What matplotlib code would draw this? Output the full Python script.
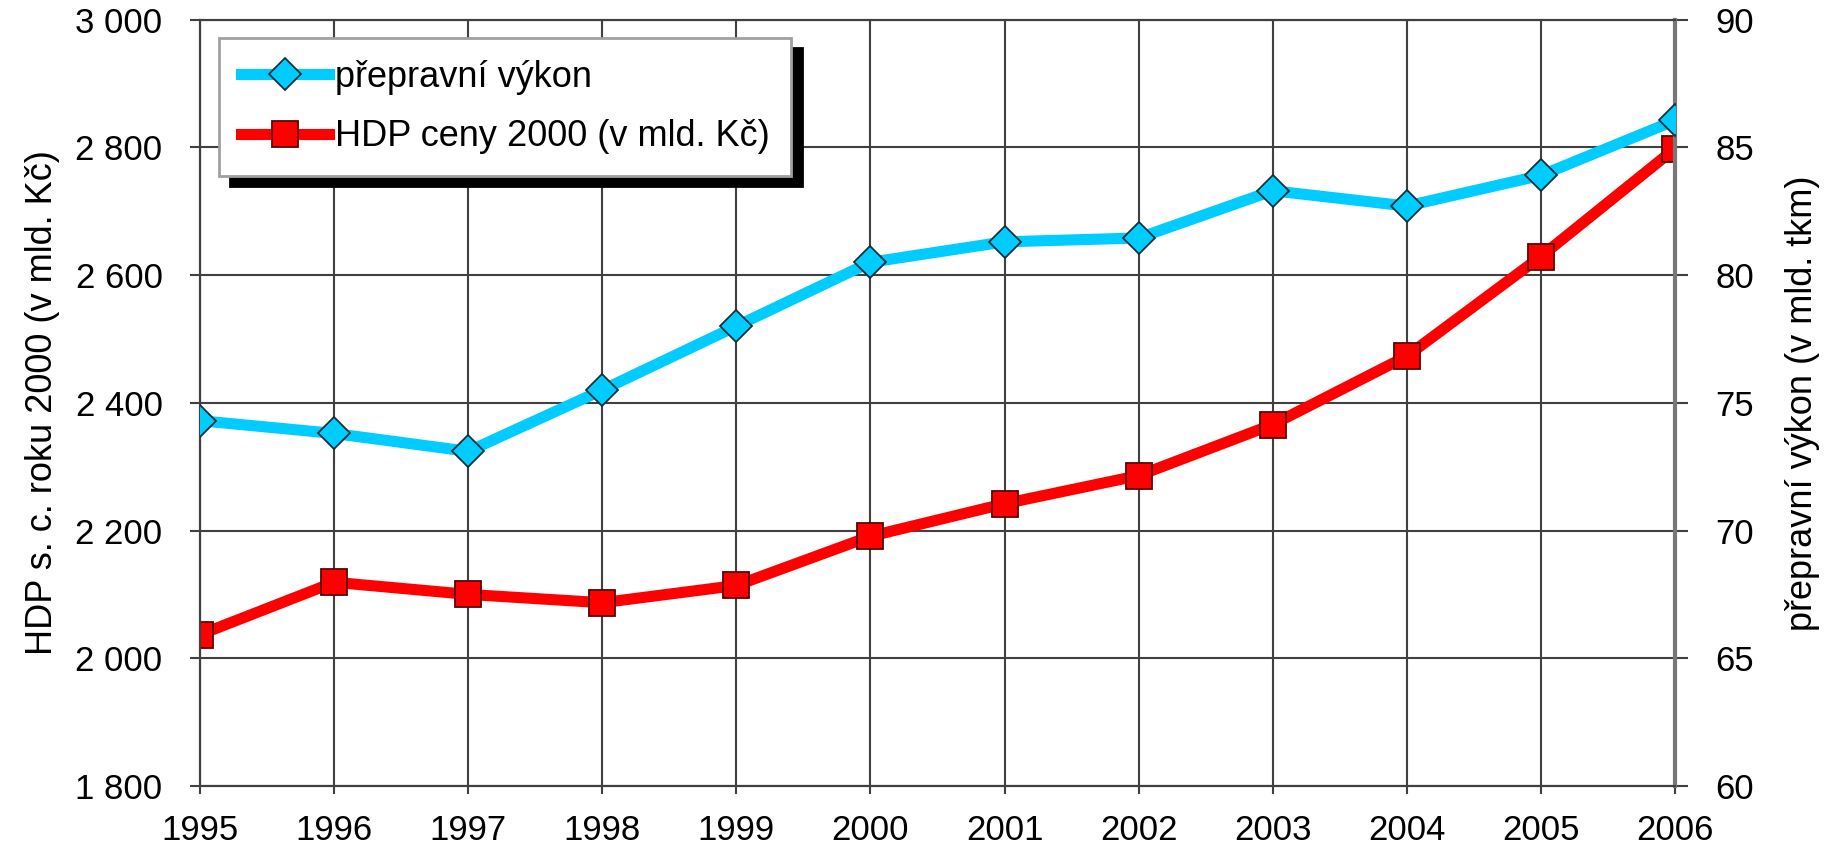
import numpy as np
import matplotlib
matplotlib.use('Agg')
import matplotlib.pyplot as plt

plt.rcParams['font.family'] = ['Liberation Sans', 'DejaVu Sans']

# data
years = [1995, 1996, 1997, 1998, 1999, 2000, 2001, 2002, 2003, 2004, 2005, 2006]
hdp = [2037, 2119, 2100, 2087, 2114, 2191, 2242, 2286, 2366, 2473, 2629, 2798]
vykon = [74.3, 73.8, 73.1, 75.5, 78.0, 80.5, 81.3, 81.45, 83.3, 82.7, 83.9, 86.05]

left_ticks = [1800, 2000, 2200, 2400, 2600, 2800, 3000]
left_labels = ['1 800', '2 000', '2 200', '2 400', '2 600', '2 800', '3 000']
right_ticks = [60, 65, 70, 75, 80, 85, 90]

label_left = 'HDP s. c. roku 2000 (v mld. Kč)'
label_right = 'přepravní výkon (v mld. tkm)'
name_vykon = 'přepravní výkon'
name_hdp = 'HDP ceny 2000 (v mld. Kč)'

CYAN = '#00CCFF'
RED = '#FF0000'
GRID = '#404040'

fig = plt.figure(figsize=(18.25, 8.57), dpi=100)
ax1 = fig.add_axes([0.1096, 0.0828, 0.8082, 0.8944])
ax2 = ax1.twinx()

l_hdp, = ax1.plot(years, hdp, color=RED, lw=8, marker='s', ms=19,
                  mfc=RED, mec='#5a0000', mew=1.3, zorder=3)
l_vyk, = ax2.plot(years, vykon, color=CYAN, lw=8, marker='D', ms=16,
                  mfc=CYAN, mec='#10303a', mew=1.3, zorder=3)

ax1.set_xlim(1995, 2006)
ax1.set_ylim(1800, 3000)
ax2.set_ylim(60, 90)
ax1.set_xticks(years)
ax1.set_xticklabels([str(y) for y in years])
ax1.set_yticks(left_ticks)
ax1.set_yticklabels(left_labels)
ax2.set_yticks(right_ticks)

ax1.grid(True, color=GRID, lw=1.5)
ax1.set_axisbelow(True)

for ax in (ax1, ax2):
    for s in ax.spines.values():
        s.set_color(GRID)
        s.set_linewidth(1.5)
ax2.spines['right'].set_color('#777777')
ax2.spines['right'].set_linewidth(3)

ax1.tick_params(axis='y', direction='out', length=7, width=1.5, color=GRID,
                labelsize=25, pad=20)
ax1.tick_params(axis='x', direction='out', length=6, width=1.5, color=GRID,
                labelsize=25, pad=14)
ax2.tick_params(axis='y', direction='out', length=9, width=1.5, color=GRID,
                labelsize=25, pad=20)

ax1.set_ylabel(label_left, fontsize=26, labelpad=11)
ax2.set_ylabel(label_right, fontsize=26, labelpad=22)

leg = ax2.legend([l_vyk, l_hdp], [name_vykon, name_hdp], loc='upper left',
                 bbox_to_anchor=(0.0129, 0.976), borderaxespad=0,
                 fontsize=26, handlelength=2.45, handletextpad=0.15,
                 labelspacing=0.68, borderpad=0.6, fancybox=False,
                 framealpha=1, edgecolor='#a0a0a0', numpoints=1,
                 shadow={'ox': 8, 'oy': -7.5, 'color': 'black', 'alpha': 1})
leg.get_frame().set_linewidth(2)

fig.savefig('out.png', dpi=100, facecolor='white')
